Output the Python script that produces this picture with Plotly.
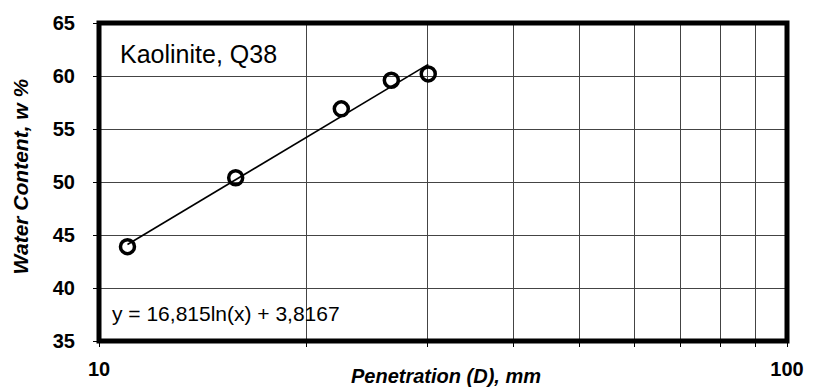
import plotly.graph_objects as go

# Data
penetration_mm = [11.0, 15.8, 22.5, 26.6, 30.1]
water_content = [43.9, 50.4, 56.9, 59.6, 60.2]

# Logarithmic trendline endpoints (y = 16,815ln(x) + 3,8167)
trend_x = [11.0, 30.1]
trend_y = [44.1, 61.1]

x_tickvals = [10, 20, 30, 40, 50, 60, 70, 80, 90, 100]
x_ticktext = ["10", "", "", "", "", "", "", "", "", "100"]
y_tickvals = [35, 40, 45, 50, 55, 60, 65]

label_title = "Kaolinite, Q38"
equation_text = "y = 16,815ln(x) + 3,8167"
x_title = "<b><i>Penetration (D), mm</i></b>"
y_title = "<b><i>Water Content, w %</i></b>"

FONT = "Arial, 'Liberation Sans', sans-serif"

fig = go.Figure()
fig.add_trace(go.Scatter(
    x=trend_x, y=trend_y, mode="lines",
    line=dict(color="black", width=1.6), showlegend=False, hoverinfo="skip"))
fig.add_trace(go.Scatter(
    x=penetration_mm, y=water_content, mode="markers",
    marker=dict(symbol="circle-open", size=14, color="black",
                line=dict(color="black", width=3.5)),
    showlegend=False))

fig.update_layout(
    width=816, height=392,
    margin=dict(l=99, r=19, t=21, b=50),
    paper_bgcolor="white", plot_bgcolor="white",
    font=dict(family=FONT, color="black"),
    xaxis=dict(
        type="log", range=[1, 2],
        tickvals=x_tickvals, ticktext=x_ticktext,
        ticks="outside", ticklen=5, tickcolor="black", tickwidth=1,
        tickfont=dict(size=20, family=FONT, color="black", weight="bold"),
        ticklabelstandoff=5,
        showgrid=True, gridcolor="#444444", gridwidth=1,
        zeroline=False, showline=False),
    yaxis=dict(
        range=[35, 65], tickvals=y_tickvals,
        ticks="outside", ticklen=5, tickcolor="black", tickwidth=1,
        tickfont=dict(size=20, family=FONT, color="black", weight="bold"),
        ticklabelstandoff=14,
        showgrid=True, gridcolor="#444444", gridwidth=1,
        zeroline=False, showline=False),
    shapes=[dict(type="rect", xref="paper", yref="paper", x0=0, x1=1, y0=0, y1=1,
                 line=dict(color="black", width=5), layer="above")],
    annotations=[
        dict(text=label_title, xref="paper", yref="paper", x=0.028, y=0.903,
             xanchor="left", yanchor="middle", showarrow=False,
             font=dict(size=25, family=FONT, color="black")),
        dict(text=equation_text, xref="paper", yref="paper", x=0.016, y=0.087,
             xanchor="left", yanchor="middle", showarrow=False,
             font=dict(size=21, family=FONT, color="black")),
        dict(text=x_title, xref="paper", yref="paper", x=0.504, y=-0.152,
             xanchor="center", yanchor="bottom", showarrow=False,
             font=dict(size=20, family=FONT, color="black")),
        dict(text=y_title, xref="paper", yref="paper", x=-0.1136, y=0.517,
             xanchor="center", yanchor="middle", showarrow=False, textangle=-90,
             font=dict(size=21, family=FONT, color="black")),
    ],
)

fig.write_html(
    "out.html",
    config={"displayModeBar": False},
    post_script="document.body.style.margin='0';document.body.style.overflow='hidden';",
)
